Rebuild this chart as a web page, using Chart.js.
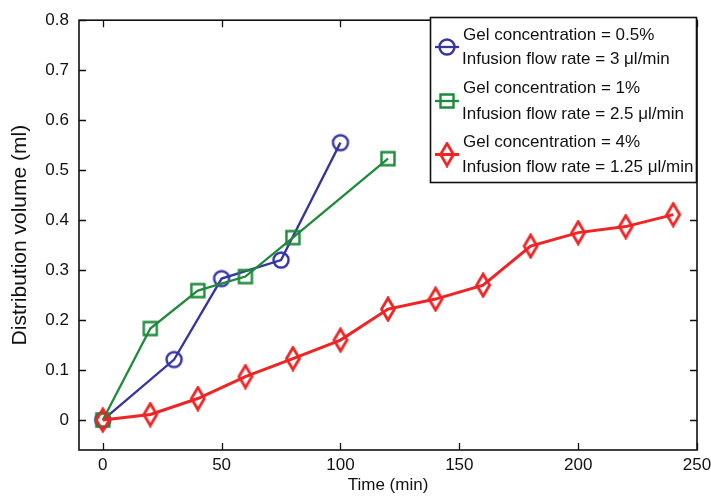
<!DOCTYPE html>
<html>
<head>
<meta charset="utf-8">
<script src="https://cdn.jsdelivr.net/npm/chart.js@4/dist/chart.umd.min.js"></script>
<style>
  html, body { margin: 0; padding: 0; background: #fff; }
  #wrap { width: 711px; height: 496px; }
</style>
</head>
<body>
<div id="wrap"><canvas id="chart" width="711" height="496"></canvas></div>
<script>
// values
var time_blue = [0, 30, 50, 75, 100]
var vol_blue = [0, 0.121, 0.283, 0.32, 0.555]

var time_green = [0, 20, 40, 60, 80, 120]
var vol_green = [0, 0.183, 0.259, 0.287, 0.365, 0.523]

var time_red = [0, 20, 40, 60, 80, 100, 120, 140, 160, 180, 200, 220, 240]
var vol_red = [0, 0.011, 0.043, 0.087, 0.123, 0.16, 0.222, 0.242, 0.27, 0.348, 0.375, 0.387, 0.411]

var x_ticks = [0, 50, 100, 150, 200, 250]
var y_ticks = [0, 0.1, 0.2, 0.3, 0.4, 0.5, 0.6, 0.7, 0.8]

var legend_gel = ['Gel concentration = 0.5%', 'Gel concentration = 1%', 'Gel concentration = 4%']
var legend_flow = ['Infusion flow rate = 3 \u03bcl/min', 'Infusion flow rate = 2.5 \u03bcl/min', 'Infusion flow rate = 1.25 \u03bcl/min']

var x_title = 'Time (min)'
var y_title = 'Distribution volume (ml)'

var BLUE = '#3434a2'
var GREEN = '#1e8a3c'
var RED = '#f02424'
var INK = '#111'
var FONT = "'Liberation Sans', Arial, sans-serif"

function make_marker(kind, color, lw) {
    var c = document.createElement('canvas')
    var ctx
    if (kind == 'circle') {
        c.width = 20; c.height = 20
        ctx = c.getContext('2d')
        ctx.beginPath()
        ctx.arc(10, 10, 7.5, 0, Math.PI * 2)
    } else if (kind == 'square') {
        c.width = 18; c.height = 18
        ctx = c.getContext('2d')
        ctx.beginPath()
        ctx.rect(2.5, 2.5, 13, 13)
    } else {
        c.width = 18; c.height = 26
        ctx = c.getContext('2d')
        ctx.beginPath()
        ctx.moveTo(9, 2)
        ctx.lineTo(15.5, 13)
        ctx.lineTo(9, 24)
        ctx.lineTo(2.5, 13)
        ctx.closePath()
    }
    ctx.strokeStyle = color
    ctx.lineWidth = lw
    ctx.stroke()
    return c
}

var markers = [
    make_marker('circle', BLUE, 2.4),
    make_marker('square', GREEN, 2.4),
    make_marker('diamond', RED, 2.8)
]
var line_widths = [2.3, 2.3, 3]
var colors = [BLUE, GREEN, RED]

function to_points(xs, ys) {
    return xs.map(function (x, i) {
        return { x: x, y: ys[i] }
    })
}

function make_dataset(i, xs, ys, order) {
    return {
        data: to_points(xs, ys),
        borderColor: colors[i],
        borderWidth: line_widths[i],
        pointStyle: markers[i],
        pointRadius: 8,
        pointHoverRadius: 8,
        backgroundColor: 'transparent',
        tension: 0,
        fill: false,
        order: order
    }
}

// box, inward ticks on all four sides and the two-line legend
var frame_plugin = {
    id: 'frame',
    afterDraw: function (chart) {
        var ctx = chart.ctx
        var a = chart.chartArea
        var xs = chart.scales.x
        var ys = chart.scales.y
        var tick = 7
        ctx.save()
        ctx.strokeStyle = INK
        ctx.lineWidth = 1.6
        ctx.strokeRect(a.left, a.top, a.right - a.left, a.bottom - a.top)
        ctx.beginPath()
        xs.ticks.forEach(function (t) {
            var px = Math.round(xs.getPixelForValue(t.value)) + 0.5
            ctx.moveTo(px, a.bottom); ctx.lineTo(px, a.bottom - tick)
            ctx.moveTo(px, a.top); ctx.lineTo(px, a.top + tick)
        })
        ys.ticks.forEach(function (t) {
            var py = Math.round(ys.getPixelForValue(t.value)) + 0.5
            ctx.moveTo(a.left, py); ctx.lineTo(a.left + tick, py)
            ctx.moveTo(a.right, py); ctx.lineTo(a.right - tick, py)
        })
        ctx.lineWidth = 1.3
        ctx.stroke()

        // legend
        var bx = 430.5, by = 17.5, bw = 266, bh = 165
        ctx.fillStyle = '#fff'
        ctx.fillRect(bx, by, bw, bh)
        ctx.lineWidth = 1.6
        ctx.strokeRect(bx, by, bw, bh)
        var rows = [[35, 59], [88, 114], [142, 167]]
        ctx.font = '17px ' + FONT
        ctx.textBaseline = 'middle'
        ctx.textAlign = 'left'
        for (var i = 0; i < 3; i++) {
            var cy = (rows[i][0] + rows[i][1]) / 2
            ctx.strokeStyle = colors[i]
            ctx.lineWidth = line_widths[i]
            ctx.beginPath()
            ctx.moveTo(435, cy)
            ctx.lineTo(459, cy)
            ctx.stroke()
            var m = markers[i]
            ctx.drawImage(m, 447 - m.width / 2, cy - m.height / 2)
            ctx.fillStyle = INK
            ctx.fillText(legend_gel[i], 463, rows[i][0])
            ctx.fillText(legend_flow[i], 462, rows[i][1])
        }
        ctx.restore()
    }
}

new Chart(document.getElementById('chart'), {
    type: 'line',
    data: {
        datasets: [
            make_dataset(0, time_blue, vol_blue, 3),
            make_dataset(1, time_green, vol_green, 2),
            make_dataset(2, time_red, vol_red, 1)
        ]
    },
    options: {
        responsive: false,
        animation: false,
        events: [],
        layout: { padding: { top: 20, right: 0, left: 0, bottom: 0 } },
        plugins: {
            legend: { display: false },
            tooltip: { enabled: false }
        },
        scales: {
            x: {
                type: 'linear',
                min: -10,
                max: 250,
                grid: { display: false, drawTicks: false },
                border: { display: false },
                afterBuildTicks: function (scale) {
                    scale.ticks = x_ticks.map(function (v) { return { value: v } })
                },
                afterFit: function (scale) {
                    scale.height = 46
                    scale.paddingRight = 14
                },
                ticks: {
                    padding: 5,
                    maxRotation: 0,
                    autoSkip: false,
                    color: INK,
                    font: { family: FONT, size: 17 },
                    callback: function (v) { return String(v) }
                },
                title: {
                    display: true,
                    text: x_title,
                    color: INK,
                    padding: { top: 0, bottom: 0 },
                    font: { family: FONT, size: 17, lineHeight: 1.2 }
                }
            },
            y: {
                type: 'linear',
                min: -0.06,
                max: 0.8,
                grid: { display: false, drawTicks: false },
                border: { display: false },
                afterBuildTicks: function (scale) {
                    scale.ticks = y_ticks.map(function (v) { return { value: v } })
                },
                afterFit: function (scale) { scale.width = 79 },
                ticks: {
                    padding: 10,
                    autoSkip: false,
                    color: INK,
                    font: { family: FONT, size: 17 },
                    callback: function (v) { return String(Math.round(v * 10) / 10) }
                },
                title: {
                    display: true,
                    text: y_title,
                    color: INK,
                    padding: { top: 8, bottom: 0 },
                    font: { family: FONT, size: 21, lineHeight: 1.2 }
                }
            }
        }
    },
    plugins: [frame_plugin]
})
</script>
</body>
</html>
